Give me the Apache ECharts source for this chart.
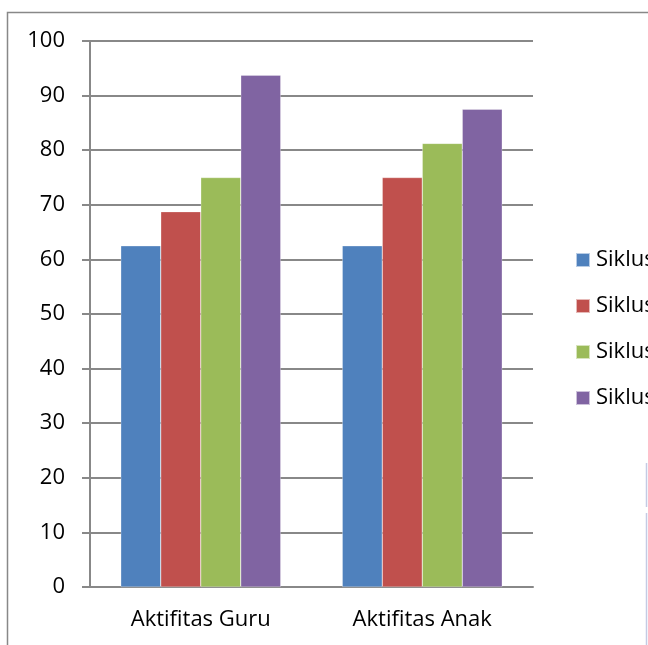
<!DOCTYPE html>
<html>
<head>
<meta charset="utf-8">
<script src="https://cdn.jsdelivr.net/npm/echarts@6/dist/echarts.min.js"></script>
<style>
  html, body { margin: 0; padding: 0; background: #fff; }
  #chart { width: 648px; height: 645px; }
</style>
</head>
<body>
<div id="chart"></div>
<script>
// data
const categories = ['Aktifitas Guru', 'Aktifitas Anak'];
const seriesNames = ['Siklus I', 'Siklus II', 'Siklus III', 'Siklus IV'];
const siklus1 = [62.5, 62.5];
const siklus2 = [68.75, 75];
const siklus3 = [75, 81.25];
const siklus4 = [93.75, 87.5];
const colors = ['#4f81bd', '#c0504d', '#9bbb59', '#8064a2'];

const font = '"Open Sans", Lato, sans-serif';
const chart = echarts.init(document.getElementById('chart'));

const values = [siklus1, siklus2, siklus3, siklus4];

chart.setOption({
    animation: false,
    color: colors,
    textStyle: { fontFamily: font },
    grid: { left: 90, top: 41, right: 115, bottom: 58 },
    legend: {
        orient: 'vertical',
        left: 570,
        top: 244,
        itemWidth: 14,
        itemHeight: 14,
        itemGap: 24,
        icon: 'rect',
        textStyle: { fontFamily: font, fontSize: 22, color: '#000', padding: [0, 0, 0, 1] },
        data: seriesNames
    },
    xAxis: {
        type: 'category',
        data: categories,
        axisLine: { lineStyle: { color: '#888', width: 2 } },
        axisTick: { length: 10, lineStyle: { color: '#888', width: 2 } },
        axisLabel: { fontFamily: font, fontSize: 22, color: '#000', margin: 22 }
    },
    yAxis: {
        type: 'value',
        min: 0,
        max: 100,
        interval: 10,
        axisLine: { show: true, lineStyle: { color: '#888', width: 2 } },
        axisTick: { show: true, length: 8, lineStyle: { color: '#888', width: 2 } },
        splitLine: { lineStyle: { color: '#888', width: 2 } },
        axisLabel: { fontFamily: font, fontSize: 22, color: '#000', margin: 25 }
    },
    series: seriesNames.map((name, i) => ({
        name: name,
        type: 'bar',
        data: values[i],
        barWidth: 40,
        barGap: '0%',
        itemStyle: { borderColor: 'rgba(255,255,255,0.6)', borderWidth: 0.5 }
    })),
    graphic: [
        {
            type: 'rect',
            shape: { x: 7.5, y: 12.5, width: 700, height: 700 },
            style: { fill: 'none', stroke: '#888', lineWidth: 1.5 },
            silent: true
        },
        {
            type: 'line',
            shape: { x1: 646.5, y1: 463, x2: 646.5, y2: 507 },
            style: { stroke: '#c4cbe4', lineWidth: 1.5 },
            silent: true
        },
        {
            type: 'line',
            shape: { x1: 646.5, y1: 513, x2: 646.5, y2: 645 },
            style: { stroke: '#c4cbe4', lineWidth: 1.5 },
            silent: true
        }
    ]
});
</script>
</body>
</html>
